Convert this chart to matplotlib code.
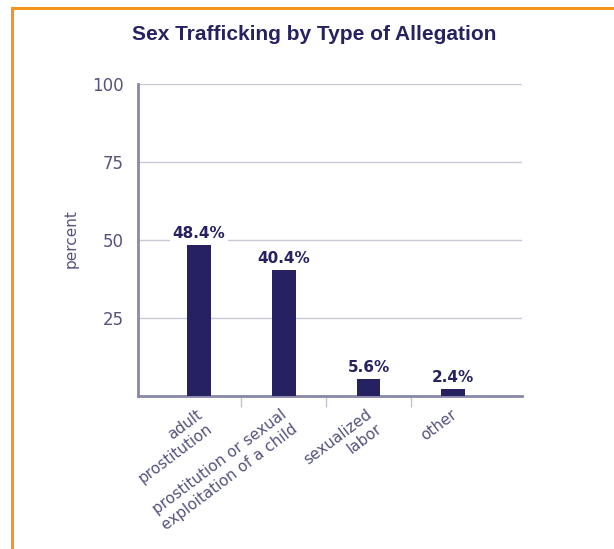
import matplotlib
matplotlib.use("Agg")
import matplotlib.pyplot as plt
from matplotlib.lines import Line2D
import numpy as np

# Data
categories = ["adult\nprostitution",
              "prostitution or sexual\nexploitation of a child",
              "sexualized\nlabor",
              "other"]
values = [48.4, 40.4, 5.6, 2.4]
yticks = [25, 50, 75, 100]

NAVY = "#262262"
TICK_TXT = "#55537e"
SPINE = "#8987aa"
GRID = "#c9c8d9"
ORANGE = "#f7941d"

W, H = 614, 549
fig = plt.figure(figsize=(W / 100, H / 100), dpi=100)

# Frame lines along the top and left edges
fig.add_artist(Line2D([12 / W, 1], [1 - 8 / H, 1 - 8 / H], color=ORANGE, lw=2.2,
                      transform=fig.transFigure))
fig.add_artist(Line2D([12 / W, 12 / W], [0, 1 - 8 / H], color=ORANGE, lw=2.2,
                      transform=fig.transFigure))

# Axes placement in pixels
x0, x1 = 138, 522
y_top, y_bot = 84, 396
ax = fig.add_axes([x0 / W, 1 - y_bot / H, (x1 - x0) / W, (y_bot - y_top) / H])

x = np.arange(len(categories))
ax.bar(x, values, width=0.28, color=NAVY, zorder=3)
ax.set_xlim(-0.72, 3.81)
ax.set_ylim(0, 100)

ax.set_yticks(yticks)
ax.set_yticklabels([str(t) for t in yticks], fontsize=12, color=TICK_TXT,
                   family="DejaVu Sans")
ax.tick_params(axis="y", length=0, pad=10)
ax.yaxis.grid(True, color=GRID, lw=1.0, zorder=0)
ax.set_axisbelow(True)

# Separator ticks between categories
ax.set_xticks(x[:-1] + 0.5)
ax.set_xticklabels([])
ax.tick_params(axis="x", length=8, width=1, color="#c4c3d4", direction="out")

for side in ("top", "right"):
    ax.spines[side].set_visible(False)
for side in ("left", "bottom"):
    ax.spines[side].set_color(SPINE)
    ax.spines[side].set_linewidth(2)

# Category labels, anchored at the upper right of each text block
for xi, lab in zip(x, categories):
    ax.annotate(lab, xy=(xi, 0), xycoords="data",
                xytext=(-3 * 0.72, -11 * 0.72), textcoords="offset points",
                rotation=37, rotation_mode="anchor",
                ha="right", va="top", multialignment="right",
                fontsize=11, color=TICK_TXT, family="DejaVu Sans",
                linespacing=1.2, annotation_clip=False)

# Value labels
for xi, v in zip(x, values):
    ax.text(xi, v + 1.2, f"{v:.1f}%", ha="center", va="bottom",
            fontsize=11, fontweight="bold", color=NAVY,
            family="DejaVu Sans", zorder=4,
            bbox=dict(boxstyle="square,pad=0.15", fc="white", ec="none"))

fig.text(71 / W, 1 - 239 / H, "percent", rotation=90, ha="center", va="center",
         fontsize=11, color=TICK_TXT, family="DejaVu Sans")

fig.text(314.5 / W, 1 - 35 / H, "Sex Trafficking by Type of Allegation",
         ha="center", va="center", fontsize=15, fontweight="bold", color=NAVY,
         family="Liberation Sans")

fig.savefig("out.png", dpi=100, facecolor="white")
